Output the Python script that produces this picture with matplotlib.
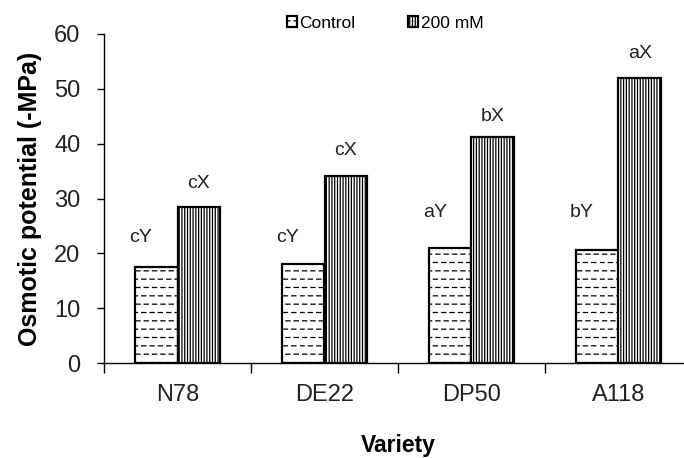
import numpy as np
import matplotlib
matplotlib.use("Agg")
import matplotlib.pyplot as plt
import matplotlib.hatch as mhatch
from matplotlib.path import Path

# ---------------- data ----------------
varieties = ["N78", "DE22", "DP50", "A118"]
control = [17.5, 18.0, 20.9, 20.6]
salt_200 = [28.4, 34.1, 41.3, 52.0]
series_names = ["Control", "200 mM"]
control_letters = ["cY", "cY", "aY", "bY"]
salt_letters = ["cX", "cX", "bX", "aX"]
y_ticks = [0, 10, 20, 30, 40, 50, 60]

# ---------------- layout ----------------
control_letter_y = [22.8, 22.8, 27.4, 27.4]
salt_letter_y = [32.8, 38.7, 44.9, 56.5]


# dashed horizontal hatch replacing the continuous '-' hatch
class DashedHorizontalHatch(mhatch.HatchPatternBase):
    n_dash = 12

    def __init__(self, hatch, density):
        self.num_lines = int((hatch.count('-') + hatch.count('+')) * density)
        self.num_vertices = self.num_lines * self.n_dash * 2

    def set_vertices_and_codes(self, vertices, codes):
        rows, rstep = np.linspace(0.0, 1.0, self.num_lines, False, retstep=True)
        rows = rows + rstep / 2.0
        period = 1.0 / self.n_dash
        dash = period * 0.5
        k = 0
        for i, yv in enumerate(rows):
            off = (period * 0.3) if i % 2 else 0.0
            for j in range(self.n_dash):
                x0 = (j * period + off) % 1.0
                x1 = min(x0 + dash, 1.0)
                vertices[k] = (x0, yv)
                vertices[k + 1] = (x1, yv)
                codes[k] = Path.MOVETO
                codes[k + 1] = Path.LINETO
                k += 2


mhatch._hatch_types = [DashedHorizontalHatch if t is mhatch.HorizontalHatch else t
                       for t in mhatch._hatch_types]

plt.rcParams['font.family'] = ['Liberation Sans', 'DejaVu Sans']
plt.rcParams['hatch.linewidth'] = 0.9
plt.rcParams['hatch.color'] = '#222222'

fig = plt.figure(figsize=(6.84, 4.58), dpi=100)
ax = fig.add_axes([104 / 684, 1 - 363 / 458, (692 - 104) / 684, (363 - 34) / 458])

x = np.arange(len(varieties))
w = 0.286
b1 = ax.bar(x - w / 2, control, width=w, color='white', edgecolor='black',
            linewidth=1.6, hatch='--', label=series_names[0])
b2 = ax.bar(x + w / 2, salt_200, width=w, color='white', edgecolor='black',
            linewidth=1.6, hatch='||||||', label=series_names[1])

for i in range(len(varieties)):
    ax.text(x[i] - 0.25, control_letter_y[i], control_letters[i], ha='center',
            va='center', fontsize=14, color='#222222')
    ax.text(x[i] + 0.145, salt_letter_y[i], salt_letters[i], ha='center',
            va='center', fontsize=14, color='#222222')

ax.set_xlim(-0.5, 3.5)
ax.set_ylim(0, 60)
ax.set_yticks(y_ticks)
ax.set_yticklabels([str(t) for t in y_ticks], fontsize=17, color='#222222')
ax.set_xticks(x)
ax.set_xticklabels(varieties, fontsize=17, color='#222222')
ax.tick_params(axis='x', which='major', length=0, pad=15)
ax.set_xticks(np.arange(-0.5, 3.6, 1.0), minor=True)
ax.tick_params(axis='x', which='minor', length=7, width=1, direction='out')
ax.tick_params(axis='y', length=5, width=1, direction='out', pad=12)
for s in ['top', 'right']:
    ax.spines[s].set_visible(False)
ax.spines['left'].set_linewidth(1)
ax.spines['bottom'].set_linewidth(1)

ax.set_ylabel("Osmotic potential (-MPa)", fontsize=18, fontweight='bold', labelpad=9)
ax.set_xlabel("Variety", fontsize=16.5, fontweight='bold', labelpad=20)

fig.legend(handles=[b1, b2], labels=series_names, loc='center',
           bbox_to_anchor=(385 / 684, 1 - 23 / 458), ncol=2, frameon=False,
           fontsize=12.5, handlelength=0.6, handleheight=0.6, handletextpad=0.15,
           columnspacing=3.0)

fig.savefig("out.png", dpi=100)
